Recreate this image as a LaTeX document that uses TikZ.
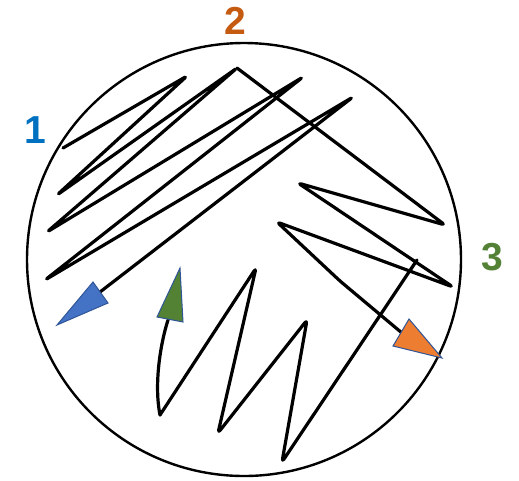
\documentclass[tikz,border=0pt]{standalone}
\usepackage{fontspec}
\setmainfont{Liberation Sans}
\definecolor{lblue}{HTML}{0070C0}
\definecolor{lorange}{HTML}{C55A11}
\definecolor{lgreen}{HTML}{538135}
\definecolor{tblue}{HTML}{4472C4}
\definecolor{tgreen}{HTML}{548235}
\definecolor{torange}{HTML}{ED7D31}
\definecolor{tedge}{HTML}{2F5597}
\tikzset{
  streak/.style={line width=3.2pt, line join=round, line cap=round, rounded corners=3.5pt},
  plate/.style={line width=2.4pt},
  tip/.style={draw=tedge, line width=1pt, line join=miter},
  lab/.style={font=\fontsize{39}{39}\selectfont\bfseries, inner sep=0pt}
}
\begin{document}
\begin{tikzpicture}[x=1pt,y=-1pt]
\useasboundingbox (0,0) rectangle (519,480);
% plate
\draw[plate] (244,259.5) ellipse [x radius=217, y radius=216.5];
% labels
\node[lab, text=lblue] (l1) at (35,130) {1};
\node[lab, text=lorange] (l2) at (235,21) {2};
\node[lab, text=lgreen] (l3) at (492,257) {3};
% streak 1
\draw[streak] (63,148) -- (187,76) -- (57,195) -- (237,68) -- (47,232) -- (303,77) -- (45,280) -- (353,97) -- (100,292);
% streak 2
\draw[streak] (237,68) -- (445,225) -- (298,183) -- (453,287) -- (277,222) -- (340,281) -- (402,333);
% streak 3
\draw[streak] (417,260) -- (282,462) -- (307,320) -- (218,433) -- (256,268) -- (160,415);
\draw[line width=3.2pt, line cap=round] (160,415) .. controls (154,385) and (160,345) .. (168,320);
% arrow heads
\fill[tblue] (93,282) -- (108,303) -- (57,325) -- cycle;
\draw[tip] (93,282) -- (108,303) -- (57,325) -- cycle;
\fill[tgreen] (180,268) -- (183,322) -- (157,317) -- cycle;
\draw[tip] (180,268) -- (183,322) -- (157,317) -- cycle;
\fill[torange] (409,319) -- (442,358) -- (393,346) -- cycle;
\draw[tip] (409,319) -- (442,358) -- (393,346) -- cycle;
\end{tikzpicture}
\end{document}
